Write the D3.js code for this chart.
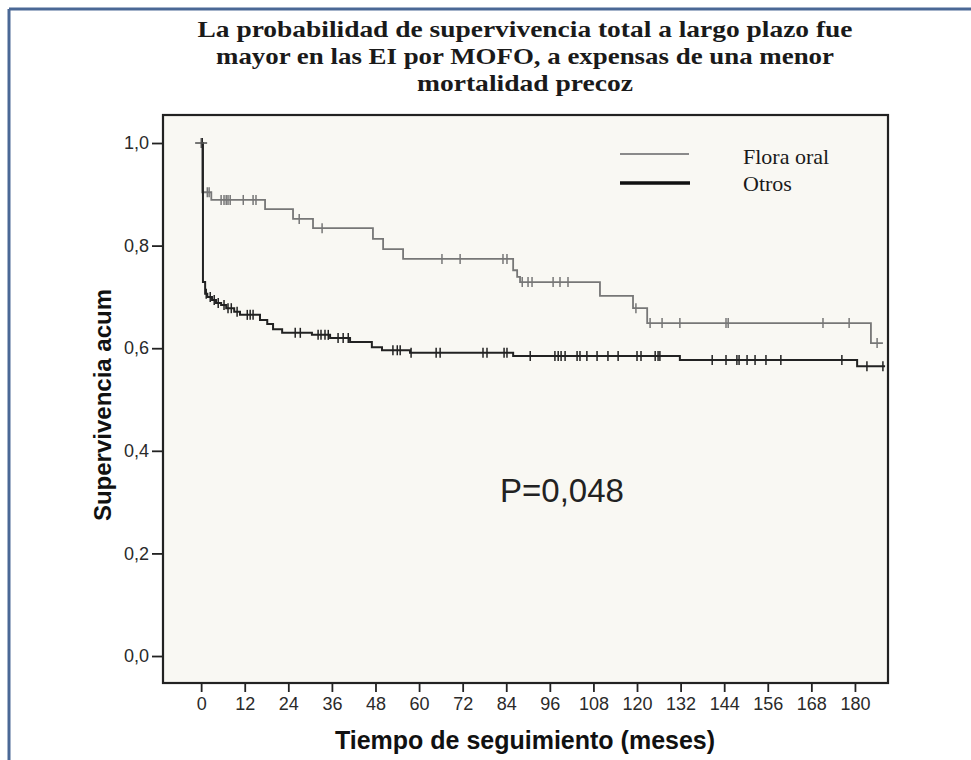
<!DOCTYPE html>
<html><head><meta charset="utf-8">
<script src="https://cdn.jsdelivr.net/npm/d3@7"></script>
<style>body{margin:0;background:#fff}svg{display:block}</style>
</head><body><svg id="c" width="971" height="760"></svg>
<script>
// ---- data ----
const titleLines = ["La probabilidad de supervivencia total a largo plazo fue",
                    "mayor en las EI por MOFO, a expensas de una menor",
                    "mortalidad precoz"];
const xTicks = [0,12,24,36,48,60,72,84,96,108,120,132,144,156,168,180];
const yTicks = [0,0.2,0.4,0.6,0.8,1.0];
const seriesNames = ["Flora oral","Otros"];

// Flora oral: step times and survival after each step
const floraTimes = [0, 0.3, 2.8, 17.6, 25.3, 30.8, 47.3, 50.1, 55.6, 85.9, 87.0, 87.8, 109.8, 118.9, 122.8, 184.4];
const floraSurv  = [1.0, 0.904, 0.889, 0.871, 0.852, 0.834, 0.813, 0.793, 0.774, 0.752, 0.739, 0.729, 0.702, 0.678, 0.649, 0.610];
const floraEnd = 187.7;
const floraCensor = [0, 1.7, 2.2, 5.5, 6.3, 6.9, 7.4, 8.0, 11.6, 14.3, 15.1, 27.0, 33.3, 66.3, 71.3, 83.1, 84.2,
                     88.4, 90.0, 91.1, 96.9, 98.8, 101.0, 119.7, 123.6, 126.9, 131.8, 144.5, 145.1, 171.2, 178.4, 186.1];

// Otros
const otrosTimes = [0, 0.5, 1.1, 1.7, 3.0, 4.1, 5.5, 6.9, 9.1, 10.7, 16.2, 18.2, 19.8, 22.3, 30.5, 35.5, 41.0, 47.0, 49.8, 57.5, 85.9, 131.8, 180.6];
const otrosSurv  = [1.0, 0.729, 0.706, 0.700, 0.694, 0.688, 0.684, 0.678, 0.671, 0.665, 0.655, 0.647, 0.637, 0.630, 0.626, 0.620, 0.612, 0.602, 0.596, 0.591, 0.585, 0.577, 0.565];
const otrosEnd = 188.3;
const otrosCensor = [0.3, 1.4, 2.5, 3.6, 4.7, 6.3, 7.4, 8.3, 9.9, 12.7, 13.5, 14.3, 25.9, 27.3, 32.2, 33.0, 34.1, 35.0,
                     37.7, 39.1, 40.5, 52.8, 54.0, 54.8, 57.8, 64.7, 65.8, 77.6, 78.7, 83.4, 84.2, 90.6, 97.4, 98.3, 99.1,
                     100.2, 103.5, 104.3, 106.2, 109.0, 112.0, 114.8, 120.0, 121.1, 125.0, 125.8, 126.3, 140.7, 144.5,
                     147.5, 148.1, 150.3, 152.5, 155.5, 159.6, 176.4, 183.3, 187.7];

const pText = "P=0,048";
const yLabel = "Supervivencia acum";
const xLabel = "Tiempo de seguimiento (meses)";

// ---- drawing ----
const svg = d3.select("#c");
const L = 163, R = 888, T = 115, B = 683;
const x = d3.scaleLinear().domain([-10.5, 189.1]).range([L, R]);
const y = d3.scaleLinear().domain([-0.0526, 1.0546]).range([B, T]);

// frame
svg.append("line").attr("x1",9).attr("y1",9).attr("x2",971).attr("y2",9).attr("stroke","#4a6896").attr("stroke-width",3);
svg.append("line").attr("x1",9).attr("y1",9).attr("x2",9).attr("y2",760).attr("stroke","#4a6896").attr("stroke-width",3);

// title
svg.append("g").selectAll("text").data(titleLines).join("text")
  .attr("x", 525).attr("y", (d,i)=>37+i*27).attr("text-anchor","middle")
  .attr("font-family","'Liberation Serif','DejaVu Serif',serif").attr("font-weight","bold")
  .attr("font-size",24).attr("fill","#1a1a1a")
  .attr("textLength",(d,i)=>[655,618,216][i]).attr("lengthAdjust","spacingAndGlyphs")
  .text(d=>d);

// plot background
svg.append("rect").attr("x",L).attr("y",T).attr("width",R-L).attr("height",B-T).attr("fill","#f9f8f3");

// axes
const ax = svg.append("g").attr("transform",`translate(0,${B})`)
  .call(d3.axisBottom(x).tickValues(xTicks).tickSize(9).tickPadding(5).tickFormat(d3.format("d")));
const ay = svg.append("g").attr("transform",`translate(${L},0)`)
  .call(d3.axisLeft(y).tickValues(yTicks).tickSize(11).tickPadding(3).tickFormat(d=>d3.format(".1f")(d).replace(".",",")));
[ax,ay].forEach(g=>{
  g.attr("font-size",null);
  g.select(".domain").remove();
  g.selectAll(".tick line").attr("stroke","#222").attr("stroke-width",1.8);
  g.selectAll(".tick text").attr("font-family","'Liberation Sans',Arial,sans-serif").style("font-size","18px").attr("fill","#2a2a2a");
});
svg.append("rect").attr("x",L).attr("y",T).attr("width",R-L).attr("height",B-T)
  .attr("fill","none").attr("stroke","#222").attr("stroke-width",2.2);

// step curves
function stepPts(times, surv, end){
  const pts = times.map((t,i)=>[t,surv[i]]);
  pts.push([end, surv[surv.length-1]]);
  return pts;
}
function survAt(times, surv, t){
  let s = surv[0];
  for (let i=0;i<times.length;i++){ if (times[i] <= t) s = surv[i]; }
  return s;
}
const line = d3.line().x(d=>x(d[0])).y(d=>y(d[1])).curve(d3.curveStepAfter);
const series = [
  {times:floraTimes, surv:floraSurv, end:floraEnd, cens:floraCensor, color:"#777", w:1.8},
  {times:otrosTimes, surv:otrosSurv, end:otrosEnd, cens:otrosCensor, color:"#222", w:2}
];
series.forEach(s=>{
  svg.append("path").attr("d", line(stepPts(s.times,s.surv,s.end)))
    .attr("fill","none").attr("stroke",s.color).attr("stroke-width",s.w);
  svg.append("g").selectAll("line").data(s.cens).join("line")
    .attr("x1",d=>x(d)).attr("x2",d=>x(d))
    .attr("y1",d=>y(survAt(s.times,s.surv,d))-5).attr("y2",d=>y(survAt(s.times,s.surv,d))+5)
    .attr("stroke",s.color).attr("stroke-width",1.5);
});
// censor at start drawn as cross on horizontal
svg.append("line").attr("x1",x(0)-6).attr("x2",x(0)+6).attr("y1",y(1)).attr("y2",y(1)).attr("stroke","#555").attr("stroke-width",1.6);

// legend
const lg = svg.append("g");
lg.append("line").attr("x1",620).attr("x2",689).attr("y1",154).attr("y2",154).attr("stroke","#8a8a8a").attr("stroke-width",2);
lg.append("line").attr("x1",620).attr("x2",690).attr("y1",183).attr("y2",183).attr("stroke","#111").attr("stroke-width",3.5);
lg.selectAll("text").data(seriesNames).join("text")
  .attr("x",743).attr("y",(d,i)=>164+i*27)
  .attr("font-family","'Liberation Serif','DejaVu Serif',serif").attr("font-size",22).attr("fill","#1a1a1a")
  .text(d=>d);

// P value
svg.append("text").attr("x",500).attr("y",502).attr("font-family","'Liberation Sans',Arial,sans-serif")
  .attr("font-size",33).attr("fill","#222").text(pText);

// axis labels
svg.append("text").attr("transform","translate(111,405) rotate(-90)").attr("text-anchor","middle")
  .attr("font-family","'Liberation Sans',Arial,sans-serif").attr("font-weight","bold").attr("font-size",24).attr("fill","#111")
  .text(yLabel);
svg.append("text").attr("x",525).attr("y",749).attr("text-anchor","middle")
  .attr("font-family","'Liberation Sans',Arial,sans-serif").attr("font-weight","bold").attr("font-size",25).attr("fill","#111")
  .text(xLabel);
</script></body></html>
